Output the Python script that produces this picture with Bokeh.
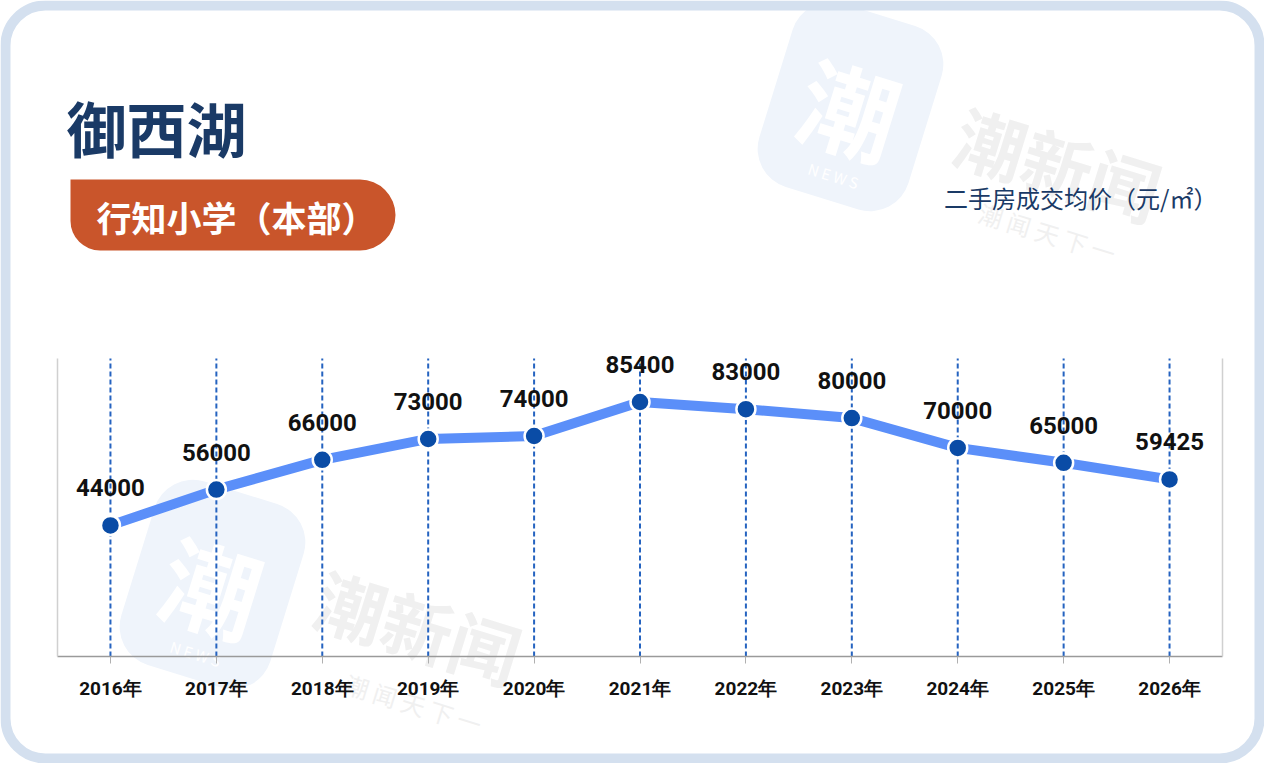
from bokeh.plotting import figure
from bokeh.models import (ColumnDataSource, LabelSet, Label, BoxAnnotation,
                          LinearAxis, Range1d, FixedTicker)
from bokeh.core.properties import value
from bokeh.embed import file_html
from bokeh.resources import INLINE

# ---- data ----
years = ["2016年", "2017年", "2018年", "2019年", "2020年", "2021年",
         "2022年", "2023年", "2024年", "2025年", "2026年"]
prices = [44000, 56000, 66000, 73000, 74000, 85400, 83000, 80000, 70000, 65000, 59425]
title_text = "御西湖"
school_text = "行知小学（本部）"
unit_text = "二手房成交均价（元/㎡）"

# ---- layout (pixels) ----
W, H = 1264, 763
PL, PR, PT, PB = 57, 1222, 358, 656      # plot area box
YMAX = 100000
NAVY = "#1a3a66"

n = len(years)
idx = list(range(n))
step = (PR - PL) / n
x0 = -0.5 - PL / step
k = (PB - PT) / YMAX

src = ColumnDataSource(dict(x=idx, price=prices, label=[str(v) for v in prices],
                            top=[YMAX] * n, base=[0] * n))

p = figure(width=W, height=H,
           x_range=Range1d(x0, x0 + W / step),
           y_range=Range1d(-(H - PB) / k, PB / k),
           output_backend="svg", toolbar_location=None,
           x_axis_location=None, y_axis_location=None,
           min_border=0, min_border_left=0, min_border_right=0,
           min_border_top=0, min_border_bottom=0)
p.background_fill_color = "white"
p.border_fill_color = "white"
p.outline_line_color = None
p.grid.visible = False

# ---- watermarks (under everything) ----
def wm(x, y, text, size, color, bg=None, pad=0, radius=0, ang=-0.30, style="bold"):
    lab = Label(x=x, y=y, x_units="canvas", y_units="canvas", text=text,
                text_font="Noto Sans CJK SC", text_font_style=style,
                text_font_size=f"{size}px", text_color=color,
                text_align="center", text_baseline="middle",
                angle=ang, level="image")
    if bg:
        lab.background_fill_color = bg
        lab.padding = pad
        lab.border_radius = radius
    p.add_layout(lab)

for (cx, cy, tx, ty, sx, sy, nx, ny) in [
        (850, 106, 1058, 162, 1047, 232, 833, 175),
        (212, 584, 418, 625, 413, 703, 195, 653)]:
    wm(cx, cy, "潮", 98, "#ffffff", bg="#eff4fb", pad=(29, 29, 25, 25), radius=40)
    wm(nx, ny, "N E W S", 15, "#ffffff", style="normal")
    wm(tx, ty, "潮新闻", 70, "#f0f0f0")
    wm(sx, sy, "潮 闻 天 下 一", 24, "#f0f0f0", style="normal")

# ---- axes ----
xax = LinearAxis(fixed_location=0, bounds=(-0.5, n - 0.5),
                 ticker=FixedTicker(ticks=idx),
                 major_label_overrides={i: y for i, y in zip(idx, years)},
                 axis_line_color="#9a9a9a", axis_line_width=1.5,
                 major_tick_line_color="#b0b0b0", major_tick_out=7, major_tick_in=0,
                 minor_tick_line_color=None, major_label_standoff=13,
                 major_label_text_font="Roboto", major_label_text_font_style="bold",
                 major_label_text_font_size="19px", major_label_text_color="#111111")
p.add_layout(xax, "below")
for loc, side in [(-0.5, "left"), (n - 0.5, "right")]:
    p.add_layout(LinearAxis(fixed_location=loc, bounds=(0, YMAX),
                            ticker=FixedTicker(ticks=[]),
                            axis_line_color="#d0d0d0", axis_line_width=1.5,
                            major_tick_line_color=None, minor_tick_line_color=None),
                 side)

# ---- card frame / header ----
p.add_layout(BoxAnnotation(left=5, right=W - 5, top=5, bottom=H - 5,
                           left_units="canvas", right_units="canvas",
                           top_units="canvas", bottom_units="canvas",
                           fill_color=None, line_color="#d4e0ef", line_alpha=1.0,
                           line_width=10, border_radius=40))
p.add_layout(BoxAnnotation(left=70, right=395, top=179, bottom=250,
                           left_units="canvas", right_units="canvas",
                           top_units="canvas", bottom_units="canvas",
                           fill_color="#c9552b", fill_alpha=1, line_color=None,
                           border_radius=(0, 36, 36, 30)))
p.add_layout(Label(x=66, y=126, x_units="canvas", y_units="canvas", text=title_text,
                   text_font="Noto Sans CJK SC", text_font_style="bold",
                   text_font_size="60px", text_color=NAVY, text_baseline="middle"))
p.add_layout(Label(x=96, y=216, x_units="canvas", y_units="canvas", text=school_text,
                   text_font="Noto Sans CJK SC", text_font_style="bold",
                   text_font_size="35px", text_color="white", text_baseline="middle"))
p.add_layout(Label(x=1217, y=197, x_units="canvas", y_units="canvas", text=unit_text,
                   text_font="Noto Sans CJK SC", text_font_style="normal",
                   text_font_size="24px", text_color=NAVY, text_align="right",
                   text_baseline="middle"))

# ---- series ----
p.segment(x0="x", y0="base", x1="x", y1="top", source=src,
          line_color="#2563c0", line_width=2, line_dash="5 3")
p.line("x", "price", source=src, line_color="#5b8ff9", line_width=10)
p.scatter("x", "price", source=src, size=19, fill_color="#0a4ca6",
          line_color="white", line_width=2.5)
p.add_layout(LabelSet(x="x", y="price", text="label", source=src,
                      y_offset=29, text_align="center", text_baseline="alphabetic",
                      text_font=value("Roboto"), text_font_style="bold",
                      text_font_size="24px", text_color="#111111"))

open("out.html", "w").write(file_html(p, INLINE))
